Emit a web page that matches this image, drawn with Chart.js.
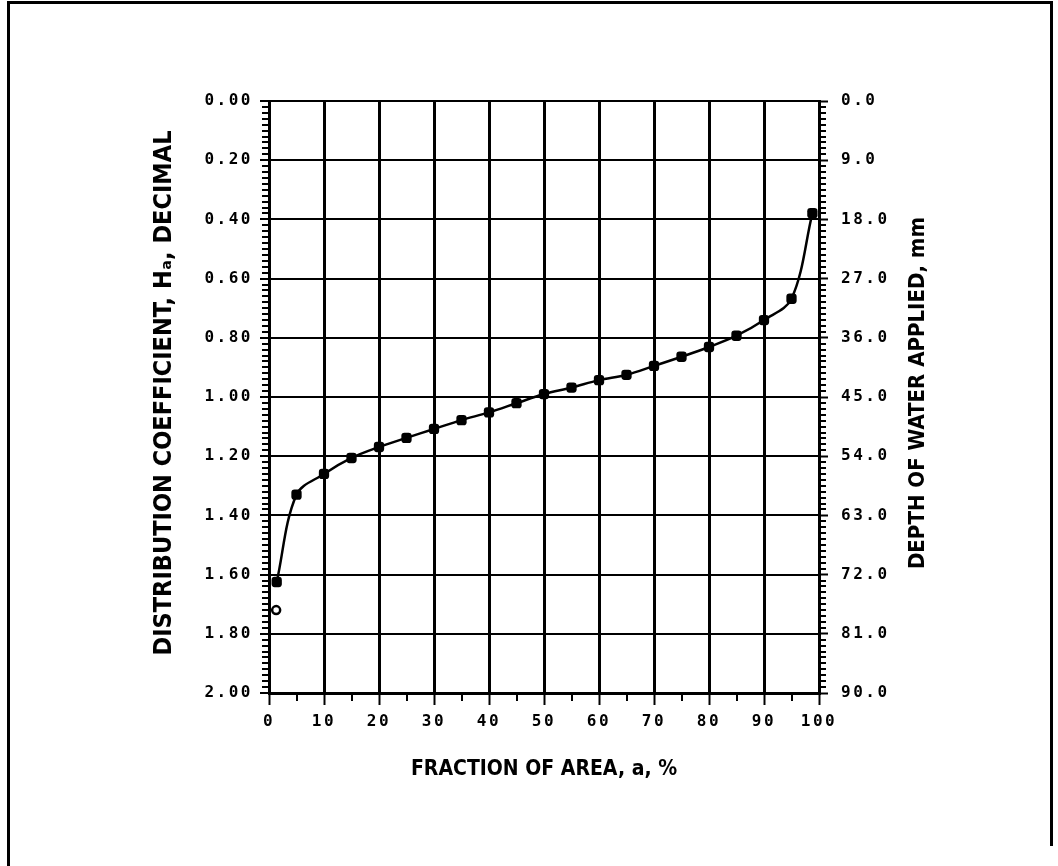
<!DOCTYPE html>
<html>
<head>
<meta charset="utf-8">
<script src="https://cdn.jsdelivr.net/npm/chart.js@4"></script>
<style>
    html, body { margin: 0; padding: 0; background: #fff; overflow: hidden; }
    #frame { position: absolute; left: 7px; top: 1px; width: 1041px; height: 880px; border-top: 3px solid #000; border-left: 3px solid #000; }
    #frameRight { position: absolute; left: 1050px; top: 1px; width: 3px; height: 845px; background: #000; }
    #wrap { position: absolute; left: 0; top: 0; width: 1058px; height: 866px; }
</style>
</head>
<body>
<div id="frame"></div>
<div id="frameRight"></div>
<div id="wrap"><canvas id="chart"></canvas></div>
<script>
"use strict";

// fraction of area (%) vs distribution coefficient
const fractionArea = [1.4, 5, 10, 15, 20, 25, 30, 35, 40, 45, 50, 55, 60, 65, 70, 75, 80, 85, 90, 95, 98.8];
const distCoef = [1.625, 1.33, 1.26, 1.206, 1.169, 1.138, 1.108, 1.078, 1.052, 1.021, 0.99,
    0.968, 0.943, 0.925, 0.895, 0.864, 0.831, 0.793, 0.74, 0.668, 0.379];
// the lone open circle near the lower left
const openX = [1.3];
const openY = [1.72];

const areaTicks = [0, 10, 20, 30, 40, 50, 60, 70, 80, 90, 100];
const coefTicks = [0, 0.2, 0.4, 0.6, 0.8, 1.0, 1.2, 1.4, 1.6, 1.8, 2.0];
const depthTicks = [0, 9, 18, 27, 36, 45, 54, 63, 72, 81, 90];

const xTitle = "FRACTION OF AREA, a, %";
const yTitle = "DISTRIBUTION COEFFICIENT, H\u2090, DECIMAL";
const y2Title = "DEPTH OF WATER APPLIED, mm";

const MONO = "'DejaVu Sans Mono', monospace";
const COND = "'DejaVu Sans Condensed', 'DejaVu Sans', sans-serif";
const BLACK = "#000";

const useTicks = list => scale => { scale.ticks = list.map(v => ({value: v})); };

// wide plotter-style tick labels; titles are drawn below without the spacing
const plotterText = {
    id: "plotterText",
    beforeDraw (chart) {
        chart.ctx.letterSpacing = "2.5px";
    },
    afterDraw (chart) {
        const {ctx, chartArea: a, scales: {x, y}} = chart;
        ctx.save();
        ctx.letterSpacing = "0px";
        ctx.strokeStyle = BLACK;
        ctx.lineWidth = 2;
        ctx.beginPath();
        // small ticks between the labelled ones
        for (let i = 1; i < 100; i++) {
            if (i % 10 === 0) continue;
            const py = Math.round(y.getPixelForValue(i * 0.02));
            ctx.moveTo(a.left - 7, py);
            ctx.lineTo(a.left, py);
            ctx.moveTo(a.right, py);
            ctx.lineTo(a.right + 7, py);
        }
        for (let v = 5; v < 100; v += 10) {
            const px = Math.round(x.getPixelForValue(v));
            ctx.moveTo(px, a.bottom);
            ctx.lineTo(px, a.bottom + 8);
        }
        ctx.stroke();

        ctx.fillStyle = BLACK;
        ctx.textAlign = "center";
        ctx.textBaseline = "middle";
        const midY = (a.top + a.bottom) / 2;

        ctx.font = `bold 21px ${COND}`;
        ctx.fillText(xTitle, (a.left + a.right) / 2, a.bottom + 77);

        ctx.save();
        ctx.translate(a.left - 105, midY - 4);
        ctx.rotate(-Math.PI / 2);
        ctx.font = `bold 25px ${COND}`;
        ctx.fillText(yTitle, 0, 0);
        ctx.restore();

        ctx.translate(a.right + 99, midY - 4);
        ctx.rotate(-Math.PI / 2);
        ctx.font = `bold 22px ${COND}`;
        ctx.fillText(y2Title, 0, 0);
        ctx.restore();
    }
};

const tickFont = {family: MONO, size: 16, weight: "bold"};

new Chart(document.getElementById("chart"), {
    type: "scatter",
    data: {
        datasets: [{
            data: fractionArea.map((v, i) => ({x: v, y: distCoef[i]})),
            showLine: true,
            tension: 0.35,
            borderColor: BLACK,
            borderWidth: 2.5,
            backgroundColor: BLACK,
            pointStyle: "rectRounded",
            pointRadius: 6,
            pointBorderWidth: 0,
            yAxisID: "y"
        }, {
            data: openX.map((v, i) => ({x: v, y: openY[i]})),
            showLine: false,
            borderColor: BLACK,
            borderWidth: 2.5,
            backgroundColor: "#fff",
            pointStyle: "circle",
            pointRadius: 4,
            yAxisID: "y"
        }]
    },
    options: {
        responsive: true,
        maintainAspectRatio: false,
        animation: false,
        layout: {padding: {top: 101, right: 0, bottom: 0, left: 0}},
        plugins: {legend: {display: false}, tooltip: {enabled: false}},
        scales: {
            x: {
                type: "linear",
                min: 0,
                max: 100,
                afterBuildTicks: useTicks(areaTicks),
                afterFit: s => { s.height = 173; },
                grid: {color: BLACK, lineWidth: 3, tickLength: 12, tickColor: BLACK, tickWidth: 2},
                border: {color: BLACK, width: 3},
                ticks: {color: BLACK, font: tickFont, padding: 7, maxRotation: 0, callback: v => String(v)}
            },
            y: {
                type: "linear",
                position: "left",
                reverse: true,
                min: 0,
                max: 2,
                afterBuildTicks: useTicks(coefTicks),
                afterFit: s => { s.width = 269; },
                grid: {color: BLACK, lineWidth: 2, tickLength: 9, tickColor: BLACK, tickWidth: 2},
                border: {color: BLACK, width: 3},
                ticks: {color: BLACK, font: tickFont, padding: 7, callback: v => v.toFixed(2)}
            },
            y2: {
                type: "linear",
                position: "right",
                reverse: true,
                min: 0,
                max: 90,
                afterBuildTicks: useTicks(depthTicks),
                afterFit: s => { s.width = 239; },
                grid: {drawOnChartArea: false, tickLength: 9, tickColor: BLACK, tickWidth: 2},
                border: {color: BLACK, width: 3},
                ticks: {color: BLACK, font: tickFont, padding: 13, callback: v => v.toFixed(1)}
            }
        }
    },
    plugins: [plotterText]
});
</script>
</body>
</html>
